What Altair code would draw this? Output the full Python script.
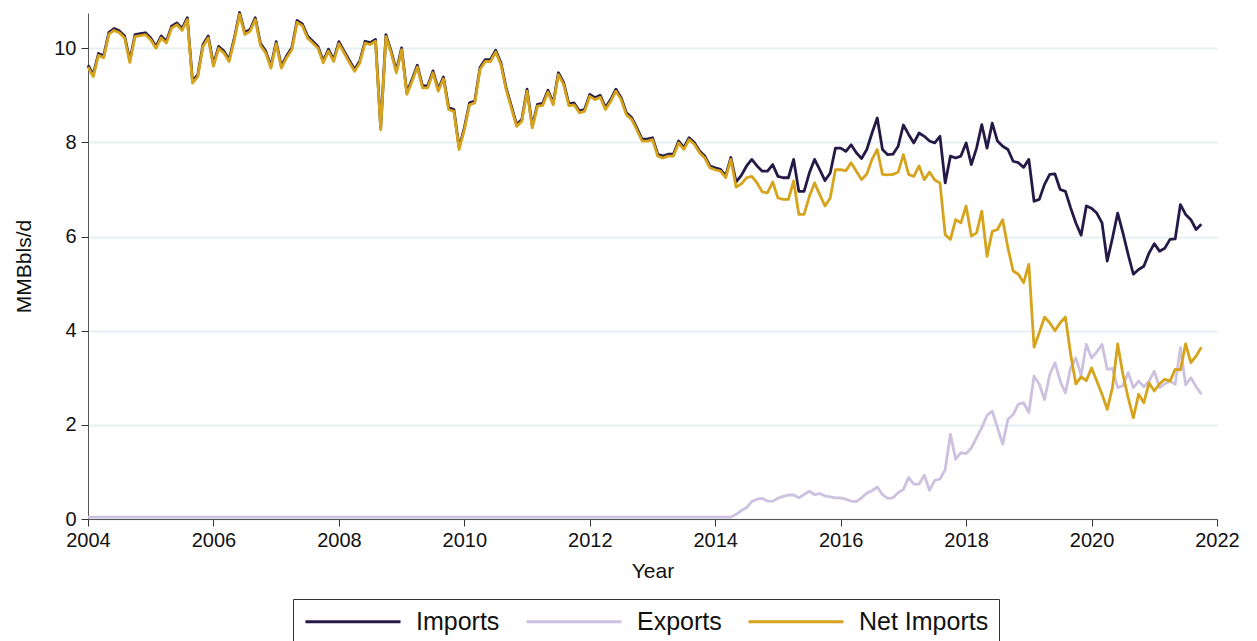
import altair as alt
import pandas as pd

start_year = 2004
series_names = ["Imports", "Exports", "Net Imports"]
series_colors = ["#251a47", "#cdc1e0", "#d6a31c"]
x_ticks = [2004, 2006, 2008, 2010, 2012, 2014, 2016, 2018, 2020, 2022]
y_ticks = [0, 2, 4, 6, 8, 10]

# monthly values, MMBbls/d, Jan 2004 .. Oct 2021
imports = [
    9.64, 9.44, 9.89, 9.84, 10.34, 10.42, 10.37, 10.26, 9.74, 10.29, 10.31, 10.33,
    10.22, 10.04, 10.26, 10.15, 10.47, 10.54, 10.42, 10.65, 9.30, 9.44, 10.08, 10.26,
    9.66, 10.04, 9.94, 9.76, 10.22, 10.76, 10.33, 10.40, 10.65, 10.10, 9.94, 9.62,
    10.14, 9.62, 9.84, 10.01, 10.59, 10.52, 10.26, 10.15, 10.04, 9.73, 9.98, 9.76,
    10.14, 9.94, 9.74, 9.55, 9.73, 10.15, 10.12, 10.19, 8.31, 10.29, 9.94, 9.52,
    10.01, 9.06, 9.34, 9.64, 9.20, 9.20, 9.52, 9.13, 9.39, 8.74, 8.70, 7.89,
    8.31, 8.84, 8.88, 9.59, 9.76, 9.76, 9.96, 9.69, 9.16, 8.77, 8.38, 8.49,
    9.13, 8.35, 8.81, 8.83, 9.11, 8.84, 9.48, 9.27, 8.82, 8.84, 8.67, 8.70,
    9.02, 8.95, 9.00, 8.74, 8.91, 9.13, 8.95, 8.63, 8.53, 8.31, 8.07, 8.07,
    8.10, 7.75, 7.71, 7.75, 7.75, 8.03, 7.89, 8.10, 8.00, 7.82, 7.71, 7.50,
    7.46, 7.43, 7.29, 7.68, 7.16, 7.30, 7.50, 7.64, 7.50, 7.39, 7.39, 7.53,
    7.28, 7.25, 7.25, 7.64, 6.96, 6.96, 7.35, 7.64, 7.42, 7.19, 7.35, 7.88,
    7.88, 7.81, 7.95, 7.78, 7.66, 7.85, 8.20, 8.52, 7.85, 7.74, 7.75, 7.92,
    8.37, 8.17, 7.99, 8.20, 8.13, 8.03, 7.99, 8.13, 7.14, 7.71, 7.67, 7.71,
    7.99, 7.53, 7.88, 8.38, 7.88, 8.41, 8.03, 7.92, 7.85, 7.60, 7.57, 7.47,
    7.64, 6.75, 6.79, 7.11, 7.32, 7.33, 7.00, 6.96, 6.61, 6.29, 6.03, 6.65,
    6.60, 6.50, 6.29, 5.48, 5.97, 6.50, 6.08, 5.62, 5.20, 5.30, 5.37, 5.65,
    5.85, 5.69, 5.75, 5.94, 5.95, 6.68, 6.47, 6.36, 6.15, 6.26,
]

exports = [
    0.04, 0.04, 0.04, 0.04, 0.04, 0.04, 0.04, 0.04, 0.04, 0.04, 0.04, 0.04,
    0.04, 0.04, 0.04, 0.04, 0.04, 0.04, 0.04, 0.04, 0.04, 0.04, 0.04, 0.04,
    0.04, 0.04, 0.04, 0.04, 0.04, 0.04, 0.04, 0.04, 0.04, 0.04, 0.04, 0.04,
    0.04, 0.04, 0.04, 0.04, 0.04, 0.04, 0.04, 0.04, 0.04, 0.04, 0.04, 0.04,
    0.04, 0.04, 0.04, 0.04, 0.04, 0.04, 0.04, 0.04, 0.04, 0.04, 0.04, 0.04,
    0.04, 0.04, 0.04, 0.04, 0.04, 0.04, 0.04, 0.04, 0.04, 0.04, 0.04, 0.04,
    0.04, 0.04, 0.04, 0.04, 0.04, 0.04, 0.04, 0.04, 0.04, 0.04, 0.04, 0.04,
    0.04, 0.04, 0.04, 0.04, 0.04, 0.04, 0.04, 0.04, 0.04, 0.04, 0.04, 0.04,
    0.04, 0.04, 0.04, 0.04, 0.04, 0.04, 0.04, 0.04, 0.04, 0.04, 0.04, 0.04,
    0.04, 0.04, 0.04, 0.04, 0.04, 0.04, 0.04, 0.04, 0.04, 0.04, 0.04, 0.04,
    0.04, 0.04, 0.04, 0.04, 0.10, 0.18, 0.24, 0.37, 0.42, 0.44, 0.38, 0.38,
    0.44, 0.48, 0.51, 0.51, 0.45, 0.52, 0.59, 0.52, 0.54, 0.49, 0.47, 0.45,
    0.45, 0.42, 0.38, 0.37, 0.45, 0.55, 0.60, 0.68, 0.52, 0.44, 0.45, 0.56,
    0.63, 0.88, 0.74, 0.74, 0.93, 0.61, 0.82, 0.85, 1.05, 1.80, 1.27, 1.41,
    1.39, 1.51, 1.73, 1.94, 2.20, 2.29, 1.94, 1.59, 2.12, 2.22, 2.44, 2.47,
    2.26, 3.04, 2.86, 2.54, 3.07, 3.32, 2.93, 2.68, 3.21, 3.42, 3.05, 3.71,
    3.42, 3.55, 3.71, 3.18, 3.20, 2.79, 2.83, 3.11, 2.79, 2.93, 2.81, 2.93,
    3.14, 2.79, 2.87, 2.93, 2.86, 3.64, 2.85, 3.00, 2.81, 2.65,
]

net_imports = [
    9.60, 9.40, 9.85, 9.80, 10.30, 10.38, 10.33, 10.22, 9.70, 10.25, 10.27, 10.29,
    10.18, 10.00, 10.22, 10.11, 10.43, 10.50, 10.38, 10.61, 9.26, 9.40, 10.04, 10.22,
    9.62, 10.00, 9.90, 9.72, 10.18, 10.72, 10.29, 10.36, 10.61, 10.06, 9.90, 9.58,
    10.10, 9.58, 9.80, 9.97, 10.55, 10.48, 10.22, 10.11, 10.00, 9.69, 9.94, 9.72,
    10.10, 9.90, 9.70, 9.51, 9.69, 10.11, 10.08, 10.15, 8.27, 10.25, 9.90, 9.48,
    9.97, 9.02, 9.30, 9.60, 9.16, 9.16, 9.48, 9.09, 9.35, 8.70, 8.66, 7.85,
    8.27, 8.80, 8.84, 9.55, 9.72, 9.72, 9.92, 9.65, 9.12, 8.73, 8.34, 8.45,
    9.09, 8.31, 8.77, 8.79, 9.07, 8.80, 9.44, 9.23, 8.78, 8.80, 8.63, 8.66,
    8.98, 8.91, 8.96, 8.70, 8.87, 9.09, 8.91, 8.59, 8.49, 8.27, 8.03, 8.03,
    8.06, 7.71, 7.67, 7.71, 7.71, 7.99, 7.85, 8.06, 7.96, 7.78, 7.67, 7.46,
    7.42, 7.39, 7.25, 7.64, 7.05, 7.12, 7.25, 7.28, 7.14, 6.95, 6.93, 7.16,
    6.82, 6.79, 6.79, 7.18, 6.47, 6.47, 6.85, 7.14, 6.89, 6.65, 6.82, 7.42,
    7.42, 7.40, 7.57, 7.39, 7.21, 7.33, 7.64, 7.85, 7.32, 7.31, 7.32, 7.37,
    7.74, 7.32, 7.28, 7.50, 7.21, 7.37, 7.20, 7.14, 6.04, 5.94, 6.36, 6.29,
    6.65, 6.01, 6.08, 6.54, 5.58, 6.11, 6.15, 6.36, 5.76, 5.27, 5.20, 5.02,
    5.41, 3.65, 3.96, 4.29, 4.17, 4.00, 4.17, 4.29, 3.50, 2.87, 3.02, 2.94,
    3.21, 2.93, 2.65, 2.33, 2.79, 3.72, 3.07, 2.58, 2.15, 2.65, 2.47, 2.89,
    2.72, 2.87, 2.97, 2.93, 3.18, 3.17, 3.72, 3.32, 3.46, 3.65,
]

rows = []
for name, vals in zip(series_names, [imports, exports, net_imports]):
    for i, v in enumerate(vals):
        rows.append({"t": start_year + i / 12.0, "value": v, "series": name})
df = pd.DataFrame(rows)

FONT = "Liberation Sans"

color = alt.Color(
    "series:N",
    scale=alt.Scale(domain=series_names, range=series_colors),
    legend=alt.Legend(
        title=None,
        orient="none",
        legendX=205,
        legendY=586,
        direction="horizontal",
        symbolType="M-1,0H8.5",
        symbolSize=400,
        symbolStrokeWidth=3,
        labelFontSize=25,
        labelFont=FONT,
        labelColor="#111",
        labelOffset=88,
        columnPadding=20,
        padding=10,
        strokeColor="#333",
        fillColor="white",
    ),
)

x = alt.X(
    "t:Q",
    title="Year",
    scale=alt.Scale(domain=[2004, 2022], nice=False, zero=False),
    axis=alt.Axis(values=x_ticks, format="d", grid=False, tickSize=7,
                  labelPadding=4, titlePadding=10, labelFlush=False),
)
y = alt.Y(
    "value:Q",
    title="MMBbls/d",
    scale=alt.Scale(domain=[0, 10.75], nice=False),
    axis=alt.Axis(values=y_ticks, grid=True, tickSize=7, labelPadding=5,
                  titlePadding=19, labelFlush=False),
)

layers = []
for name in series_names:
    layers.append(
        alt.Chart(df)
        .transform_filter(alt.datum.series == name)
        .mark_line(strokeWidth=2.8, strokeJoin="round")
        .encode(x=x, y=y, color=color)
    )

chart = (
    alt.layer(*layers)
    .properties(width=1129, height=506, padding={"left": 5, "top": 3, "right": 5, "bottom": 5})
    .configure_view(stroke=None)
    .configure_axis(
        labelFont=FONT,
        titleFont=FONT,
        labelFontSize=20,
        titleFontSize=21,
        titleFontWeight="normal",
        labelColor="#111",
        titleColor="#111",
        domainColor="#555",
        tickColor="#333",
        gridColor="#e6eff1",
        gridWidth=2,
    )
)

chart.save("out.html", embed_options={"renderer": "svg", "actions": False})
